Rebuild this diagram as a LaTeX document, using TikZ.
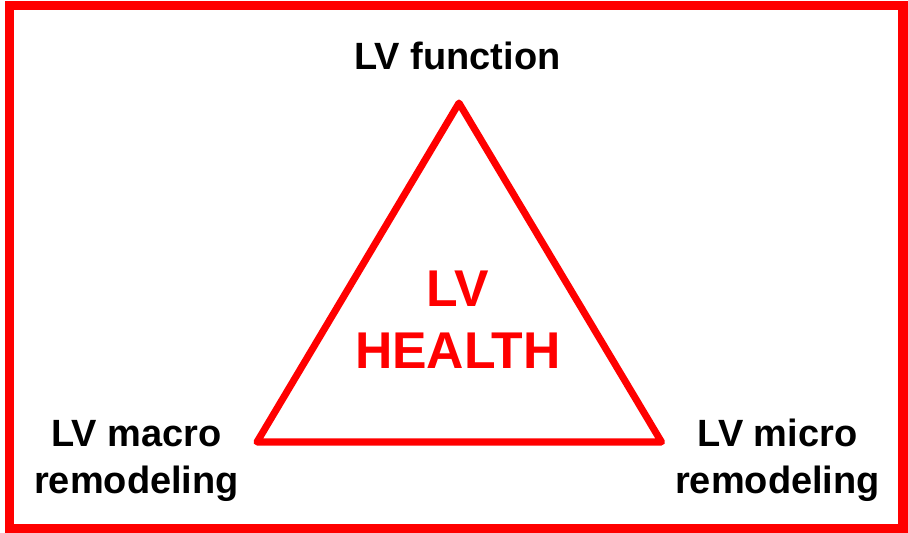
\documentclass[tikz,border=0pt]{standalone}
\usepackage{fontspec}
\setmainfont{Liberation Sans}
\usepackage{tikz}
\usetikzlibrary{positioning,calc}
\definecolor{cFrame}{HTML}{FF0000}
\definecolor{cLabel}{HTML}{000000}
\tikzset{
  frameline/.style={draw=cFrame,line width=2.8pt},
  triline/.style={draw=cFrame,line width=2pt,line join=round,line cap=round},
  cornerlab/.style={font=\bfseries\fontsize{10.8}{13.1}\selectfont,text=cLabel,
      align=center,inner sep=0pt,anchor=base},
  corelab/.style={font=\bfseries\fontsize{14.7}{17.6}\selectfont,text=cFrame,
      align=center,inner sep=0pt,anchor=base},
}
\begin{document}
\begin{tikzpicture}[x=0.01cm,y=-0.01cm]
  \useasboundingbox (0,0) rectangle (908,533);
  \draw[frameline] (9.5,5.5) rectangle (903,528.5);

  \coordinate (apex) at (459,103);
  \coordinate (lcorner) at (257,442);
  \coordinate (rcorner) at (661.5,442);
  \draw[triline] (apex) -- (lcorner) -- (rcorner) -- cycle;

  % base anchor sits on the last line
  \node[cornerlab] (func) at (457.5,69.3) {LV function};
  \node[cornerlab] (macro) at (136.5,493) {LV macro\\remodeling};
  \node[cornerlab] (micro) at (777.5,493) {LV micro\\remodeling};
  \node[corelab] (health) at (458,368) {LV\\HEALTH};
\end{tikzpicture}
\end{document}
